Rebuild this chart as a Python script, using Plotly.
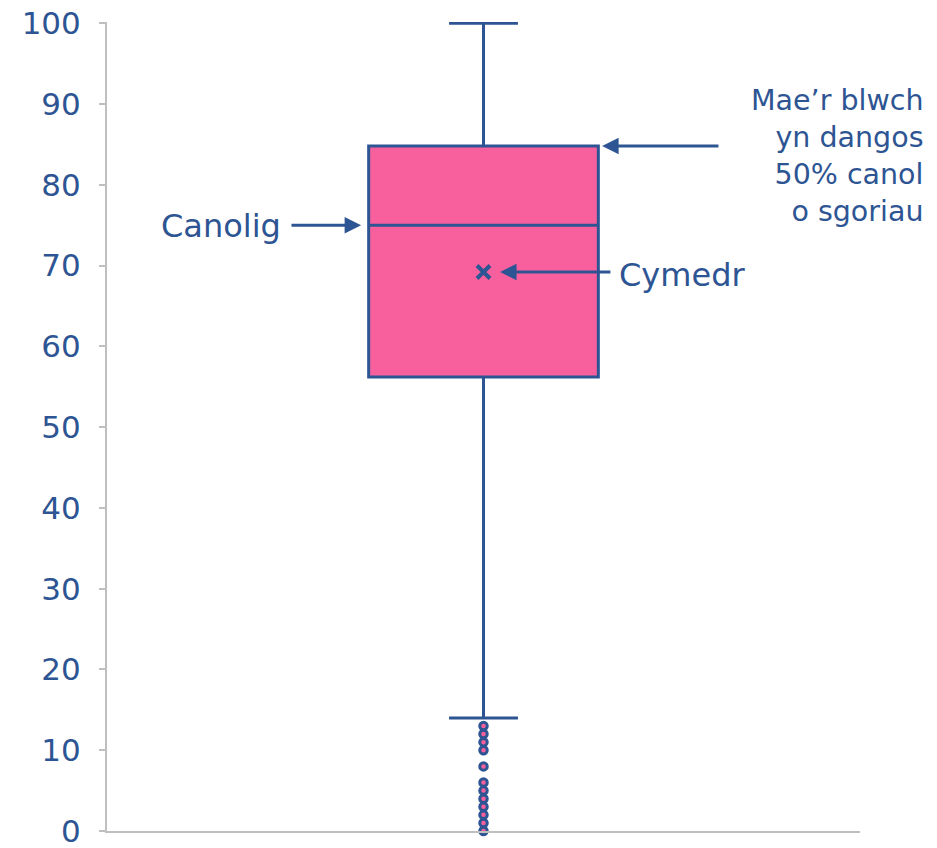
import plotly.graph_objects as go

# Data
q1 = 56.2
median = 75
q3 = 84.8
lower_whisker = 14
upper_whisker = 100
mean_value = 69.2
outliers = [13, 12, 11, 10, 8, 6, 5, 4, 3, 2, 1, 0]
y_ticks = [0, 10, 20, 30, 40, 50, 60, 70, 80, 90, 100]

DARK = "#2E5593"
PINK = "#F7609C"
FONT = "DejaVu Sans"
BOX_W = 0.61

fig = go.Figure()

fig.add_trace(go.Box(
    x=[0], q1=[q1], median=[median], q3=[q3],
    lowerfence=[lower_whisker], upperfence=[upper_whisker],
    width=BOX_W, whiskerwidth=0.3, boxpoints=False,
    fillcolor=PINK, line=dict(color=DARK, width=3),
    hoverinfo="skip", showlegend=False,
))

fig.add_trace(go.Scatter(
    x=[0] * len(outliers), y=outliers, mode="markers",
    marker=dict(size=7.5, color=PINK, line=dict(color=DARK, width=3)),
    cliponaxis=False, showlegend=False,
))

fig.add_trace(go.Scatter(
    x=[0], y=[mean_value], mode="markers",
    marker=dict(symbol="x-thin", size=13, line=dict(color=DARK, width=4)),
    showlegend=False,
))

half = BOX_W / 2
arrows = [
    (half + 0.01, q3, 0.628, q3),          # box 50%
    (-half - 0.02, median, -0.514, median),  # median
    (0.044, mean_value, 0.341, mean_value),  # mean
]
for xt, yt, xa, ya in arrows:
    fig.add_annotation(
        x=xt, y=yt, ax=xa, ay=ya, xref="x", yref="y", axref="x", ayref="y",
        text="", showarrow=True, arrowhead=2, arrowsize=1.1, arrowwidth=3,
        arrowcolor=DARK,
    )

fig.add_annotation(x=-0.533, y=median, xref="x", yref="y", text="Canolig",
                   showarrow=False, xanchor="right", yanchor="middle", yshift=-1,
                   font=dict(family=FONT, size=32, color=DARK))
fig.add_annotation(x=0.355, y=mean_value, xref="x", yref="y", text="Cymedr",
                   showarrow=False, xanchor="left", yanchor="middle", yshift=-3,
                   font=dict(family=FONT, size=32, color=DARK))
fig.add_annotation(x=1.086, y=83.6, xref="paper", yref="y",
                   text="Mae’r blwch<br>yn dangos<br>50% canol<br>o sgoriau",
                   showarrow=False, xanchor="right", yanchor="middle", align="right",
                   font=dict(family=FONT, size=28.5, color=DARK))

fig.update_layout(
    width=937, height=848,
    margin=dict(l=107, r=77, t=22, b=17, autoexpand=False),
    paper_bgcolor="white", plot_bgcolor="white",
    font=dict(family=FONT, color=DARK),
    xaxis=dict(range=[-1, 1], showticklabels=False, showgrid=False, zeroline=False,
               showline=True, linecolor="#BFBFBF", linewidth=2, ticks=""),
    yaxis=dict(range=[0, 100.15], tickvals=y_ticks, showgrid=False, zeroline=False,
               showline=True, linecolor="#BFBFBF", linewidth=2,
               ticks="outside", ticklen=6, tickcolor="#BFBFBF", tickwidth=2,
               ticklabelstandoff=12, ticklabeloverflow="allow",
               tickfont=dict(family=FONT, size=31, color=DARK)),
)

fig.write_html("out.html", config={"displayModeBar": False},
               post_script="document.body.style.margin='0';document.body.style.overflow='hidden';")
